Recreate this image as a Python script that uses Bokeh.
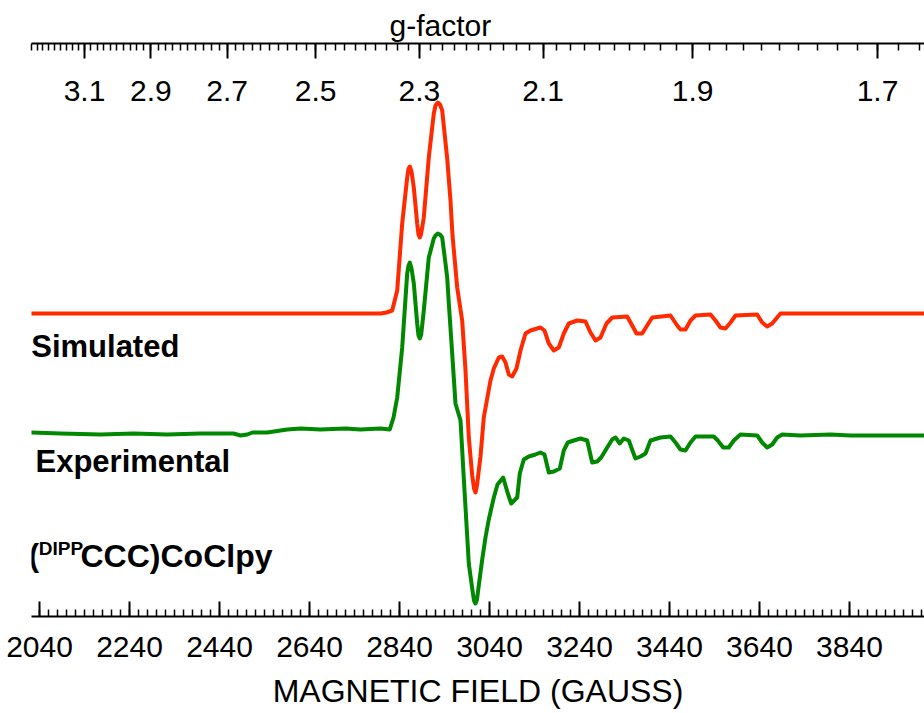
import numpy as np
from bokeh.plotting import figure
from bokeh.models import (Range1d, LinearAxis, FixedTicker, CustomJSTickFormatter, Label)
from bokeh.embed import file_html
from bokeh.resources import INLINE

FONT = "Liberation Sans"
RED = "#ff2a00"
GREEN = "#008800"

# microwave frequency used for the g-factor scale (g = 714.477 * nu[GHz] / B[G])
FREQ_GHZ = 9.285
K = 714.477 * FREQ_GHZ

# ---- data -----------------------------------------------------------------
SIM_FIELD = [2022.2, 2797.8, 2811.1, 2823.8, 2834.9, 2846.0, 2857.1, 2860.0, 2862.9, 2866.7,
             2871.8, 2879.3, 2882.2, 2885.1, 2888.2, 2894.0, 2905.1, 2916.2, 2920.0, 2925.1,
             2930.0, 2934.9, 2946.0, 2953.3, 2957.8, 2968.2, 2979.3, 2986.7, 2994.0, 3001.6,
             3005.6, 3008.9, 3012.2, 3016.2, 3020.0, 3027.3, 3034.9, 3042.2, 3049.6, 3060.7,
             3068.2, 3075.6, 3082.9, 3090.4, 3100.0, 3108.9, 3120.0, 3131.1, 3153.3, 3162.2,
             3171.8, 3182.9, 3194.0, 3205.1, 3216.2, 3234.9, 3253.3, 3264.4, 3275.6, 3286.7,
             3300.0, 3312.7, 3346.0, 3357.1, 3366.7, 3379.3, 3390.4, 3401.6, 3442.2, 3457.1,
             3464.4, 3475.6, 3486.7, 3497.8, 3531.1, 3542.2, 3553.3, 3564.4, 3575.6, 3586.7,
             3634.9, 3646.0, 3657.1, 3668.2, 3679.3, 3686.7, 4006.7]
SIM_INT = [0, 0, 1, 3, 23, 90, 136, 145, 147, 142,
           126, 90, 79, 76, 80, 96, 156, 200, 208, 211,
           209, 203, 155, 113, 78, 26, -7, -57, -124, -162,
           -175, -179, -172, -157, -143, -104, -85, -67, -55, -44,
           -43, -49, -61, -63, -55, -37, -20, -17, -14, -17,
           -30, -37, -34, -20, -10, -7, -8, -19, -27, -24,
           -10, -4, -3, -12, -20, -20, -12, -4, -2, -12,
           -16, -16, -7, -2, -1, -7, -14, -15, -9, -2,
           -1, -9, -13, -10, -4, 0, 0]

EXP_FIELD = [2022.2, 2086.7, 2175.6, 2248.9, 2323.8, 2397.8, 2471.1, 2486.7, 2501.6, 2513.3,
             2546.0, 2590.4, 2620.0, 2664.4, 2720.0, 2753.3, 2797.8, 2818.4, 2826.7, 2834.9,
             2846.0, 2857.1, 2860.0, 2862.9, 2866.7, 2871.8, 2879.3, 2882.2, 2885.1, 2888.2,
             2894.0, 2905.1, 2916.2, 2920.0, 2925.1, 2930.0, 2934.9, 2942.2, 2946.0, 2949.6,
             2957.1, 2964.4, 2975.6, 2982.9, 2994.0, 3002.2, 3005.6, 3008.9, 3012.2, 3015.6,
             3023.8, 3031.1, 3038.4, 3049.6, 3057.8, 3070.4, 3080.0, 3088.2, 3101.6, 3107.3,
             3116.2, 3127.3, 3142.2, 3153.3, 3162.2, 3171.8, 3182.9, 3196.2, 3205.1, 3214.0,
             3227.3, 3242.2, 3257.1, 3268.2, 3279.3, 3288.2, 3301.6, 3312.7, 3320.0, 3329.6,
             3338.4, 3349.6, 3359.3, 3364.4, 3375.6, 3386.7, 3397.8, 3420.0, 3442.2, 3453.3,
             3464.4, 3475.6, 3486.7, 3497.8, 3538.4, 3547.3, 3559.3, 3571.8, 3582.9, 3597.8,
             3634.9, 3646.0, 3657.1, 3668.2, 3679.3, 3690.4, 3731.1, 3797.8, 3842.2, 3908.9,
             4006.7]
EXP_INT = [0, -1, -2, -1, -2, -1, -1, -3, -2, 0,
           0, 3, 4, 3, 4, 3, 4, 3, 15, 35,
           85, 159, 167, 170, 164, 149, 109, 97, 94, 98,
           122, 175, 194, 197, 199, 198, 195, 169, 155, 129,
           79, 29, 12, -46, -131, -158, -168, -171, -167, -155,
           -127, -105, -87, -65, -52, -45, -60, -71, -65, -41,
           -27, -24, -22, -20, -22, -40, -39, -36, -18, -10,
           -8, -6, -8, -30, -29, -25, -15, -7, -5, -11,
           -6, -8, -20, -26, -24, -21, -8, -5, -4, -10,
           -17, -18, -10, -4, -4, -8, -15, -15, -8, -2,
           -3, -10, -15, -12, -5, -2, -3, -2, -3, -3,
           -3]

SIM_OFFSET = 303
EXP_OFFSET = 184

FIELD_TICKS = [2040, 2240, 2440, 2640, 2840, 3040, 3240, 3440, 3640, 3840]
FIELD_MINOR = list(range(2020, 4001, 20))
G_TICKS = [3.1, 2.9, 2.7, 2.5, 2.3, 2.1, 1.9, 1.7]
G_MINOR = [round(v, 2) for v in np.arange(1.66, 3.2801, 0.02)]

# ---- figure ---------------------------------------------------------------
p = figure(width=924, height=713, output_backend="svg", toolbar_location=None,
           x_range=Range1d(2022.2, 4006.7), y_range=Range1d(0, 573),
           x_axis_location=None, y_axis_location=None,
           min_border_left=31, min_border_right=0, min_border_top=43, min_border_bottom=97)
p.grid.visible = False
p.outline_line_color = None
p.background_fill_color = "white"
p.border_fill_color = "white"

p.title.text = "g-factor"
p.title.align = "left"
p.title.offset = 358
p.title.standoff = 4
p.title.text_font = FONT
p.title.text_font_size = "30px"
p.title.text_font_style = "normal"
p.title.text_color = "black"

def style_axis(ax):
    ax.axis_line_color = "black"
    ax.axis_line_width = 2
    ax.major_tick_line_color = "black"
    ax.minor_tick_line_color = "black"
    ax.major_tick_line_width = 2
    ax.minor_tick_line_width = 1.5
    ax.major_tick_in = 15
    ax.major_tick_out = 0
    ax.minor_tick_in = 7
    ax.minor_tick_out = 0
    ax.major_label_text_font = FONT
    ax.major_label_text_font_size = "30px"
    ax.major_label_text_color = "black"

xb = LinearAxis(ticker=FixedTicker(ticks=FIELD_TICKS, minor_ticks=FIELD_MINOR),
                axis_label="MAGNETIC FIELD (GAUSS)")
style_axis(xb)
xb.major_label_standoff = 20
xb.axis_label_text_font = FONT
xb.axis_label_text_font_size = "32px"
xb.axis_label_text_font_style = "normal"
xb.axis_label_text_color = "black"
xb.axis_label_standoff = 13
p.add_layout(xb, "below")

xt = LinearAxis(ticker=FixedTicker(ticks=[K / g for g in G_TICKS],
                                   minor_ticks=[K / g for g in G_MINOR]),
                formatter=CustomJSTickFormatter(args=dict(K=K),
                                                code="return (K / tick).toFixed(1);"))
style_axis(xt)
xt.major_label_standoff = -57
p.add_layout(xt, "above")

p.line(SIM_FIELD, np.array(SIM_INT) + SIM_OFFSET, line_color=RED, line_width=4,
       line_join="round", line_cap="round")
p.line(EXP_FIELD, np.array(EXP_INT) + EXP_OFFSET, line_color=GREEN, line_width=4,
       line_join="round", line_cap="round")

def add_label(x, y, text, size):
    p.add_layout(Label(x=x, y=y, text=text, text_font=FONT, text_font_size=size,
                       text_font_style="bold", text_color="black",
                       text_align="left", text_baseline="alphabetic"))

add_label(2021.6, 270, "Simulated", "31px")
add_label(2031.1, 155, "Experimental", "31px")
add_label(2016.2, 61, "(", "31px")
add_label(2038.4, 68, "DIPP", "19px")
add_label(2131.1, 61, "CCC)CoClpy", "32px")

open("out.html", "w").write(file_html(p, INLINE))
